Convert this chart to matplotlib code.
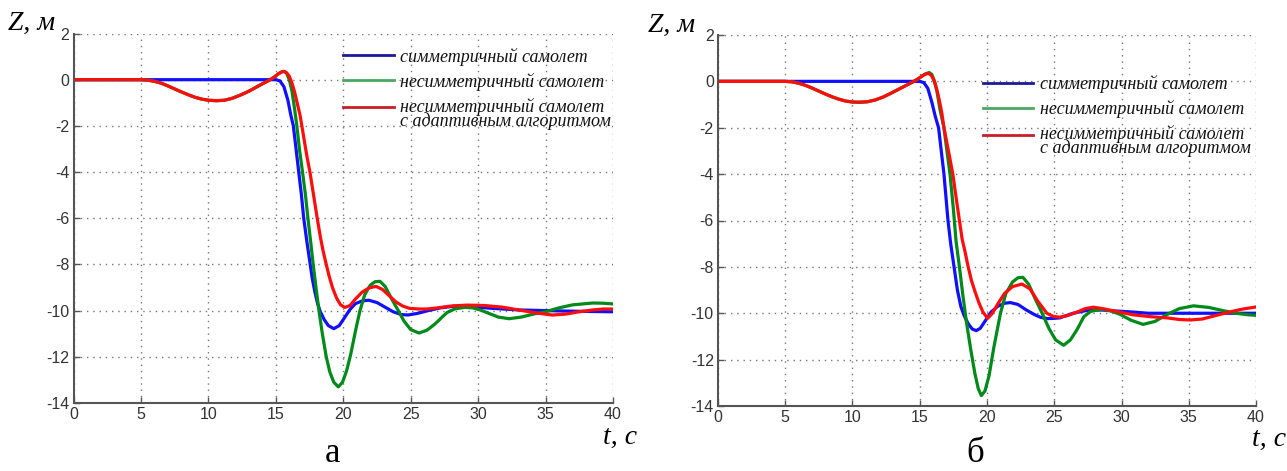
import matplotlib
matplotlib.use("Agg")
import numpy as np
import matplotlib.pyplot as plt
from matplotlib.lines import Line2D
from matplotlib.legend_handler import HandlerLine2D

plt.rcParams["axes.unicode_minus"] = False

# ---- данные ----
labels = ["симметричный самолет", "несимметричный самолет",
          "несимметричный самолет\nс адаптивным алгоритмом"]
x_ticks = [0, 5, 10, 15, 20, 25, 30, 35, 40]
y_ticks = [-14, -12, -10, -8, -6, -4, -2, 0, 2]

# рисунок а
t_sym_a = [0, 15.0, 15.3, 15.6, 15.9, 16.1, 16.3, 16.5, 16.7, 16.9, 17.07, 17.3, 17.5, 17.7, 17.9,
           18.1, 18.3, 18.6, 18.9, 19.3, 19.7, 20.1, 20.5, 20.9, 21.4, 21.9, 22.5, 23.1, 23.7, 24.3,
           24.8, 25.5, 26.3, 27.2, 28.2, 29.5, 31, 33, 35, 37.5, 40]
z_sym_a = [0, 0, -0.05, -0.3, -0.9, -1.5, -2.0, -3.0, -4.0, -5.0, -6.0, -7.0, -7.8, -8.6, -9.2,
           -9.7, -10.05, -10.4, -10.65, -10.78, -10.65, -10.3, -9.95, -9.7, -9.58, -9.55, -9.65, -9.85,
           -10.05, -10.17, -10.19, -10.12, -10.0, -9.88, -9.81, -9.83, -9.9, -9.97, -10.0, -10.03, -10.05]

t_asym_a = [0, 5.0, 5.5, 6, 6.5, 7, 7.5, 8, 8.5, 9, 9.5, 10, 10.6, 11.2, 11.8, 12.4, 13, 13.5, 14,
            14.5, 14.9, 15.2, 15.45, 15.62, 15.8, 16.0, 16.2, 16.4, 16.56, 16.75, 16.98, 17.2, 17.38,
            17.58, 17.77, 18.0, 18.2, 18.45, 18.74, 19.0, 19.3, 19.63, 19.95, 20.25, 20.55, 20.9,
            21.24, 21.6, 22.0, 22.35, 22.72, 23.1, 23.6, 24.08, 24.5, 25.0, 25.62, 26.2, 26.8, 27.3,
            27.7, 28.3, 29.0, 29.6, 30.2, 30.8, 31.5, 32.3, 33.2, 34.1, 35.0, 36.0, 37.0, 38.5,
            39.3, 40]
z_asym_a = [0, 0, -0.02, -0.07, -0.15, -0.27, -0.4, -0.53, -0.65, -0.76, -0.84, -0.89, -0.91, -0.89,
            -0.8, -0.66, -0.5, -0.34, -0.18, -0.03, 0.12, 0.26, 0.34, 0.36, 0.28, 0.0, -0.5, -1.3,
            -2.0, -3.0, -4.0, -5.0, -6.0, -7.0, -8.0, -9.1, -10.0, -11.0, -12.0, -12.65, -13.1,
            -13.3, -13.1, -12.6, -11.9, -10.9, -10.0, -9.3, -8.9, -8.75, -8.73, -8.95, -9.5, -10.0,
            -10.45, -10.82, -10.97, -10.85, -10.58, -10.3, -10.08, -9.92, -9.86, -9.88, -9.98, -10.12,
            -10.28, -10.35, -10.28, -10.15, -10.05, -9.88, -9.75, -9.67, -9.68, -9.71]

t_adapt_a = [0, 5.0, 5.5, 6, 6.5, 7, 7.5, 8, 8.5, 9, 9.5, 10, 10.6, 11.2, 11.8, 12.4, 13, 13.5, 14,
             14.5, 14.9, 15.2, 15.45, 15.62, 15.8, 16.0, 16.2, 16.4, 16.6, 16.8, 16.93, 17.1, 17.3,
             17.53, 17.8, 18.07, 18.3, 18.5, 18.74, 18.95, 19.2, 19.5, 19.8, 20.12, 20.5, 20.9, 21.4,
             21.9, 22.43, 22.9, 23.4, 23.9, 24.4, 24.9, 25.6, 26.2, 27.0, 28.0, 29.2, 30.5, 31.8, 33,
             34.3, 35.5, 36.5, 37.5, 38.5, 39.3, 40]
z_adapt_a = [0, 0, -0.02, -0.07, -0.15, -0.27, -0.4, -0.53, -0.65, -0.76, -0.84, -0.89, -0.91, -0.89,
             -0.8, -0.66, -0.5, -0.34, -0.18, -0.03, 0.12, 0.26, 0.34, 0.36, 0.3, 0.15, -0.15, -0.55,
             -1.05, -1.55, -2.0, -2.6, -3.3, -4.0, -5.0, -6.0, -6.8, -7.4, -8.0, -8.5, -9.0, -9.45,
             -9.75, -9.86, -9.78, -9.5, -9.2, -9.02, -8.95, -9.08, -9.35, -9.62, -9.8, -9.9, -9.93,
             -9.93, -9.88, -9.8, -9.76, -9.78, -9.85, -9.97, -10.1, -10.19, -10.15, -10.05, -9.97,
             -9.93, -9.93]

# рисунок б
t_sym_b = [0, 15.0, 15.3, 15.6, 15.9, 16.15, 16.4, 16.6, 16.8, 16.95, 17.1, 17.3, 17.55, 17.8, 18.05,
           18.3, 18.6, 18.9, 19.2, 19.5, 19.9, 20.3, 20.8, 21.3, 21.73, 22.3, 22.9, 23.5, 24.0, 24.5,
           25.0, 25.4, 26.4, 27.4, 28.5, 29.5, 30.9, 32, 36, 40]
z_sym_b = [0, 0, -0.05, -0.3, -0.9, -1.5, -2.0, -3.0, -4.0, -5.0, -6.0, -7.0, -8.0, -9.0, -9.7,
           -10.1, -10.45, -10.68, -10.75, -10.65, -10.3, -9.95, -9.7, -9.57, -9.54, -9.62, -9.85,
           -10.05, -10.18, -10.23, -10.22, -10.2, -10.0, -9.88, -9.86, -9.9, -9.95, -10.0, -10.0, -10.0]

t_asym_b = [0, 5.0, 5.5, 6, 6.5, 7, 7.5, 8, 8.5, 9, 9.5, 10, 10.5, 11.1, 11.7, 12.3, 12.9, 13.5, 14,
            14.5, 14.9, 15.2, 15.45, 15.7, 15.9, 16.1, 16.3, 16.5, 16.8, 17.0, 17.25, 17.5, 17.7,
            17.95, 18.2, 18.45, 18.8, 19.1, 19.35, 19.58, 19.85, 20.15, 20.5, 21.0, 21.4, 21.9, 22.3,
            22.67, 23.1, 23.6, 24.1, 24.6, 25.1, 25.7, 26.2, 26.7, 27.2, 27.7, 28.5, 29.2, 29.9,
            30.7, 31.6, 32.5, 33.4, 34.3, 35.35, 36.5, 37.5, 38.5, 39.3, 40]
z_asym_b = [0, 0, -0.02, -0.08, -0.17, -0.29, -0.42, -0.55, -0.67, -0.77, -0.85, -0.89, -0.9, -0.88,
            -0.8, -0.67, -0.5, -0.32, -0.17, -0.02, 0.12, 0.24, 0.33, 0.38, 0.3, 0.0, -0.5, -1.2,
            -2.0, -2.9, -4.0, -5.5, -6.9, -8.0, -9.2, -10.3, -11.6, -12.6, -13.25, -13.55, -13.35,
            -12.7, -11.5, -10.0, -9.15, -8.65, -8.47, -8.45, -8.75, -9.4, -10.0, -10.65, -11.15,
            -11.38, -11.15, -10.7, -10.15, -9.92, -9.83, -9.9, -10.05, -10.3, -10.48, -10.35, -10.05,
            -9.8, -9.68, -9.75, -9.88, -10.0, -10.06, -10.09]

t_adapt_b = [0, 5.0, 5.5, 6, 6.5, 7, 7.5, 8, 8.5, 9, 9.5, 10, 10.5, 11.1, 11.7, 12.3, 12.9, 13.5, 14,
             14.5, 14.9, 15.2, 15.45, 15.65, 15.85, 16.05, 16.25, 16.45, 16.65, 16.8, 17.0, 17.2,
             17.46, 17.7, 17.95, 18.15, 18.35, 18.6, 18.85, 19.1, 19.4, 19.7, 20.05, 20.4, 20.8,
             21.3, 21.9, 22.6, 23.2, 23.8, 24.45, 24.9, 25.4, 26.0, 26.7, 27.3, 27.9, 28.6, 29.6,
             30.9, 32.2, 33.4, 34.3, 35.1, 36.0, 37, 38, 39, 40]
z_adapt_b = [0, 0, -0.02, -0.08, -0.17, -0.29, -0.42, -0.55, -0.67, -0.77, -0.85, -0.89, -0.9, -0.88,
             -0.8, -0.67, -0.5, -0.32, -0.17, -0.02, 0.12, 0.24, 0.32, 0.34, 0.27, 0.05, -0.3, -0.8,
             -1.4, -2.0, -2.6, -3.2, -4.0, -5.0, -6.0, -6.8, -7.3, -8.0, -8.6, -9.05, -9.55, -9.95,
             -10.22, -10.0, -9.6, -9.15, -8.85, -8.74, -8.95, -9.5, -10.0, -10.13, -10.17, -10.1,
             -9.95, -9.8, -9.74, -9.8, -9.92, -10.07, -10.15, -10.2, -10.27, -10.29, -10.25, -10.1,
             -9.95, -9.82, -9.73]

line_colors = ["#1010ff", "#008a1a", "#ff0d0d"]
legend_colors = ["#1a1a9a", "#4aa860", "#c81e28"]

W, H = 1287, 471
fig = plt.figure(figsize=(W / 100, H / 100), dpi=100)

tick_font = ["Liberation Sans", "DejaVu Sans"]
serif = ["Liberation Serif", "DejaVu Serif"]


class TopLineHandler(HandlerLine2D):
    # линия легенды напротив первой строки двухстрочной подписи
    def create_artists(self, legend, orig_handle, xdescent, ydescent, width, height,
                       fontsize, trans):
        arts = super().create_artists(legend, orig_handle, xdescent, ydescent, width,
                                      height, fontsize, trans)
        for a in arts:
            a.set_ydata(np.asarray(a.get_ydata()) + 0.36 * fontsize)
        return arts


def setup_axes(ax):
    ax.set_xlim(0, 40)
    ax.set_ylim(-14, 2)
    ax.set_xticks(x_ticks)
    ax.set_yticks(y_ticks)
    ax.grid(True, color="#777777", linestyle=(0, (1, 3.5)), linewidth=1.0)
    for s in ["top", "right"]:
        ax.spines[s].set_visible(False)
    for s in ["left", "bottom"]:
        ax.spines[s].set_color("#555555")
        ax.spines[s].set_linewidth(1.5)
    ax.tick_params(direction="in", length=4, width=1, color="#555555",
                   labelcolor="#333333", labelsize=11.5, pad=3)
    for lab in ax.get_xticklabels() + ax.get_yticklabels():
        lab.set_fontfamily(tick_font)


def draw_panel(ax, series, leg_anchor):
    setup_axes(ax)
    for (t, z), c in zip(series, line_colors):
        ax.plot(t, z, color=c, linewidth=2.3)
    handles = [Line2D([], [], color=c, linewidth=2.0) for c in legend_colors]
    leg = ax.legend(handles, labels, loc="upper left", bbox_to_anchor=leg_anchor,
                    frameon=False, handlelength=2.8, handletextpad=0.35,
                    labelspacing=0.38, borderaxespad=0, borderpad=0,
                    handler_map={handles[2]: TopLineHandler()},
                    prop={"family": serif, "style": "italic", "size": 13})
    for txt in leg.get_texts():
        txt.set_color("#111111")
        txt.set_linespacing(0.72)


ax1 = fig.add_axes([73.5 / W, 1 - 403 / H, 539.5 / W, 369.5 / H])
draw_panel(ax1, [(t_sym_a, z_sym_a), (t_asym_a, z_asym_a), (t_adapt_a, z_adapt_a)],
           (0.50, 0.962))

ax2 = fig.add_axes([718 / W, 1 - 406 / H, 538 / W, 371 / H])
draw_panel(ax2, [(t_sym_b, z_sym_b), (t_asym_b, z_asym_b), (t_adapt_b, z_adapt_b)],
           (0.492, 0.892))

# подписи осей и рисунков
fig.text(8 / W, 1 - 23 / H, "Z, м", family=serif, style="italic", fontsize=20,
         ha="left", va="center")
fig.text(648 / W, 1 - 25 / H, "Z, м", family=serif, style="italic", fontsize=20,
         ha="left", va="center")
fig.text(603 / W, 1 - 437 / H, "t, с", family=serif, style="italic", fontsize=20,
         ha="left", va="center")
fig.text(1252 / W, 1 - 439 / H, "t, с", family=serif, style="italic", fontsize=20,
         ha="left", va="center")
fig.text(333 / W, 1 / H, "а", family=serif, fontsize=25, ha="center", va="bottom")
fig.text(975 / W, 1 / H, "б", family=serif, fontsize=25, ha="center", va="bottom")

fig.savefig("out.png", dpi=100)
